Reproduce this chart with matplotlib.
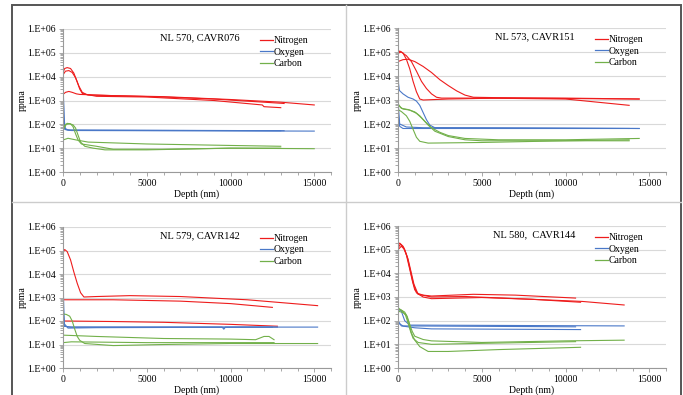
import math
import matplotlib.pyplot as plt
from matplotlib.ticker import FixedLocator, LogLocator, FuncFormatter, NullFormatter
from matplotlib.lines import Line2D
from matplotlib.patches import Rectangle

plt.rcParams['font.family'] = ['Liberation Serif', 'DejaVu Serif']

# depth (nm), concentration (ppma)
# NL 570, CAVR076
n570a = [(0, 1.5e4), (100, 2.2e4), (250, 2.4e4), (450, 2.2e4), (650, 1.4e4), (850, 6e3), (1000, 3e3), (1150, 2.0e3), (1500, 1.7e3), (3000, 1.6e3), (6000, 1.4e3), (9000, 1.15e3), (12000, 8.5e2), (13200, 7.5e2)]
n570b = [(0, 1.2e4), (150, 1.7e4), (350, 1.8e4), (550, 1.5e4), (750, 9e3), (950, 4e3), (1150, 2.2e3), (1400, 1.8e3), (2000, 1.5e3), (5000, 1.4e3), (9000, 1.0e3), (11900, 6.5e2), (12000, 5.5e2), (13000, 5e2)]
n570c = [(0, 1.8e3), (150, 2.2e3), (350, 2.4e3), (550, 2.2e3), (800, 1.9e3), (1000, 1.8e3), (3000, 1.6e3), (6000, 1.45e3), (10000, 1.1e3), (13000, 8.5e2), (15000, 6.5e2)]
o570a = [(0, 5e4), (30, 1e3), (80, 70), (300, 58), (13000, 54)]
o570b = [(0, 2e4), (40, 3e2), (100, 62), (400, 56), (13200, 54)]
o570c = [(0, 1e4), (50, 2e2), (150, 60), (500, 55), (15000, 52)]
c570a = [(0, 50), (100, 90), (250, 110), (450, 105), (600, 80), (750, 40), (900, 22), (1100, 15), (2000, 12), (3000, 9), (6000, 9), (10000, 10), (13000, 10)]
c570b = [(0, 60), (200, 100), (400, 105), (600, 95), (750, 70), (900, 35), (1050, 18), (1300, 12), (1800, 10), (2500, 8.5), (5000, 8.5), (10000, 10), (15000, 9.5)]
c570c = [(0, 22), (300, 26), (800, 22), (1500, 18), (5000, 15), (10000, 13), (13000, 12)]

# NL 573, CAVR151
n573a = [(0, 8e4), (100, 1.1e5), (300, 9e4), (500, 5e4), (700, 2e4), (900, 6e3), (1100, 2.2e3), (1300, 1.1e3), (1500, 1.0e3), (3000, 1.1e3), (6000, 1.2e3), (10000, 1.15e3), (14400, 1.1e3)]
n573b = [(0, 9e4), (200, 1.0e5), (500, 7e4), (800, 4e4), (1100, 1.6e4), (1400, 6e3), (1700, 3e3), (2000, 1.8e3), (2300, 1.3e3), (2600, 1.2e3), (5000, 1.2e3), (10000, 1.1e3), (13800, 6e2)]
n573c = [(0, 4e4), (300, 4.8e4), (600, 5e4), (1000, 4e4), (1500, 2.5e4), (2000, 1.4e4), (2500, 7e3), (3000, 4e3), (3500, 2.4e3), (4000, 1.6e3), (4500, 1.3e3), (6000, 1.25e3), (10000, 1.2e3), (14400, 1.1e3)]
o573a = [(0, 3e5), (30, 5e3), (80, 2.5e3), (300, 1.8e3), (600, 1.3e3), (900, 1.1e3), (1100, 9e2), (1300, 6e2), (1500, 3e2), (1700, 1.5e2), (1900, 90), (2200, 70), (14400, 65)]
o573b = [(0, 1e3), (100, 100), (500, 75), (1500, 70), (14400, 65)]
o573c = [(0, 300), (100, 80), (300, 65), (13800, 65)]
c573a = [(0, 700), (200, 450), (600, 400), (1000, 320), (1300, 220), (1600, 130), (2000, 70), (2500, 45), (3000, 33), (4000, 25), (6000, 22), (10000, 22), (14400, 25)]
c573b = [(0, 600), (300, 420), (700, 380), (1100, 280), (1400, 180), (1800, 90), (2200, 50), (3000, 30), (4000, 22), (5000, 20), (8000, 20), (13800, 20)]
c573c = [(0, 400), (200, 330), (500, 220), (700, 130), (900, 60), (1100, 28), (1300, 19), (1800, 16), (5000, 17), (10000, 20), (13800, 22)]

# NL 579, CAVR142
n579a = [(0, 8e4), (100, 1.1e5), (250, 9e4), (450, 4e4), (650, 1.2e4), (850, 4e3), (1050, 1.6e3), (1250, 1.05e3), (2000, 1.1e3), (4000, 1.2e3), (7000, 1.1e3), (11000, 8e2), (15200, 4.5e2)]
n579b = [(0, 8e2), (3000, 8e2), (7000, 7e2), (10000, 5.5e2), (12500, 3.8e2)]
n579c = [(0, 200), (60, 100), (3000, 95), (6000, 88), (10000, 72), (12800, 60)]
o579a = [(0, 1e6), (30, 1e3), (80, 60), (400, 55), (9500, 55), (9600, 45), (9700, 55), (15200, 55)]
o579b = [(0, 2e3), (50, 80), (300, 50), (2000, 52), (12800, 55)]
o579c = [(0, 5e2), (60, 60), (500, 55), (12500, 55)]
c579a = [(0, 200), (200, 190), (400, 160), (550, 100), (700, 45), (850, 22), (1000, 15), (1300, 11), (3000, 9), (6000, 10), (10000, 11), (15200, 11)]
c579b = [(0, 25), (2000, 22), (6000, 18), (10000, 17), (11500, 16), (12000, 22), (12300, 22), (12600, 16)]
c579c = [(0, 12), (500, 13), (5000, 12), (10000, 12), (12600, 12)]

# NL 580, CAVR144
n580a = [(0, 1.5e5), (100, 1.9e5), (300, 1.4e5), (500, 6e4), (700, 1.5e4), (850, 5e3), (1000, 2e3), (1200, 1.4e3), (1500, 1.2e3), (2000, 1.1e3), (4500, 1.3e3), (7000, 1.2e3), (10600, 9e2)]
n580b = [(0, 1.2e5), (150, 1.7e5), (350, 1.2e5), (550, 5e4), (750, 1.2e4), (900, 4e3), (1100, 1.5e3), (1500, 1.0e3), (2000, 8.5e2), (5000, 9.5e2), (8000, 8e2), (10900, 6e2)]
n580c = [(0, 1e5), (200, 1.4e5), (400, 1e5), (600, 4e4), (800, 1e4), (950, 3.5e3), (1200, 1.3e3), (2000, 1.0e3), (4000, 1.05e3), (8000, 8e2), (11000, 6.5e2), (13500, 4.6e2)]
o580a = [(0, 3e4), (30, 300), (200, 250), (400, 100), (700, 65), (13500, 60)]
o580b = [(0, 100), (200, 60), (600, 55), (1000, 50), (2000, 45), (10900, 42)]
o580c = [(0, 80), (300, 60), (10600, 55)]
c580a = [(0, 300), (200, 280), (400, 230), (550, 150), (700, 70), (850, 35), (1000, 22), (1500, 16), (2000, 14), (5000, 12), (10000, 14), (13500, 15)]
c580b = [(0, 350), (250, 260), (450, 170), (600, 80), (750, 35), (900, 18), (1200, 12), (2000, 10), (5000, 11), (10600, 13)]
c580c = [(0, 1.5), (20, 250), (300, 220), (500, 170), (650, 80), (800, 30), (1000, 15), (1300, 8), (1800, 5), (3000, 5), (6000, 6), (10900, 7.5)]

titles = ['NL 570, CAVR076', 'NL 573, CAVR151', 'NL 579, CAVR142', 'NL 580,  CAVR144']
nitrogen = [[n570a, n570b, n570c], [n573a, n573b, n573c], [n579a, n579b, n579c], [n580a, n580b, n580c]]
oxygen = [[o570a, o570b, o570c], [o573a, o573b, o573c], [o579a, o579b, o579c], [o580a, o580b, o580c]]
carbon = [[c570a, c570b, c570c], [c573a, c573b, c573c], [c579a, c579b, c579c], [c580a, c580b, c580c]]

red = '#ee1c1c'
blue = '#4a78c8'
green = '#72b04a'

W, H = 683, 395
fig = plt.figure(figsize=(W / 100, H / 100), dpi=100)

# panel frames (pixel coords)
fig.add_artist(Rectangle((12 / W, -0.1), (681 - 12) / W, 1.1 - 5 / H, transform=fig.transFigure,
                         fill=False, edgecolor='#555555', lw=1.4))
fig.add_artist(Line2D([346 / W, 346 / W], [0, 1 - 5 / H], transform=fig.transFigure, color='#cccccc', lw=1))
fig.add_artist(Line2D([12 / W, 681 / W], [1 - 202 / H, 1 - 202 / H], transform=fig.transFigure, color='#cccccc', lw=1))

# axes boxes: left, right, top, bottom in pixels
boxes = [(63, 331, 29, 172), (398, 666, 28, 172), (63, 331, 227, 368), (398, 666, 226, 368)]


def exp_fmt(v, pos):
    return '1.E+%02d' % round(math.log10(v))


for i, (l, r, t, b) in enumerate(boxes):
    ax = fig.add_axes([l / W, 1 - b / H, (r - l) / W, (b - t) / H])
    ax.set_yscale('log')
    ax.set_ylim(1, 1e6)
    ax.set_xlim(0, 16000)

    for s in nitrogen[i]:
        ax.plot([p[0] for p in s], [p[1] for p in s], color=red, lw=0.8)
    for s in oxygen[i]:
        ax.plot([p[0] for p in s], [p[1] for p in s], color=blue, lw=0.8)
    for s in carbon[i]:
        ax.plot([p[0] for p in s], [p[1] for p in s], color=green, lw=0.8)

    ax.yaxis.set_major_locator(FixedLocator([10 ** k for k in range(7)]))
    ax.yaxis.set_major_formatter(FuncFormatter(exp_fmt))
    ax.yaxis.set_minor_locator(LogLocator(base=10, subs=range(2, 10)))
    ax.yaxis.set_minor_formatter(NullFormatter())
    ax.xaxis.set_major_locator(FixedLocator([0, 5000, 10000, 15000]))
    ax.xaxis.set_minor_locator(FixedLocator(range(0, 16001, 1000)))
    ax.grid(axis='y', which='major', color='#d9d9d9', lw=0.8)
    ax.set_axisbelow(True)
    for sp in ['top', 'right']:
        ax.spines[sp].set_visible(False)
    for sp in ['left', 'bottom']:
        ax.spines[sp].set_color('#9a9a9a')
        ax.spines[sp].set_linewidth(0.8)
    ax.tick_params(which='both', direction='out', color='#9a9a9a', labelsize=7, width=0.6)
    ax.tick_params(which='major', length=3, pad=2)
    ax.tick_params(which='minor', length=2)
    ax.set_xlabel('Depth (nm)', fontsize=7, labelpad=1)
    ax.set_ylabel('ppma', fontsize=7, labelpad=0.5)

    ax.text(0.51, 0.94, titles[i], transform=ax.transAxes, ha='center', va='center', fontsize=7.5)
    handles = [Line2D([], [], color=red, lw=0.9), Line2D([], [], color=blue, lw=0.9),
               Line2D([], [], color=green, lw=0.9)]
    ax.legend(handles, ['Nitrogen', 'Oxygen', 'Carbon'], loc='upper left', bbox_to_anchor=(0.735, 0.95),
              frameon=False, fontsize=7, handlelength=1.3, handletextpad=0.1, labelspacing=0.25,
              borderpad=0, borderaxespad=0)

fig.savefig('out.png', dpi=100)
